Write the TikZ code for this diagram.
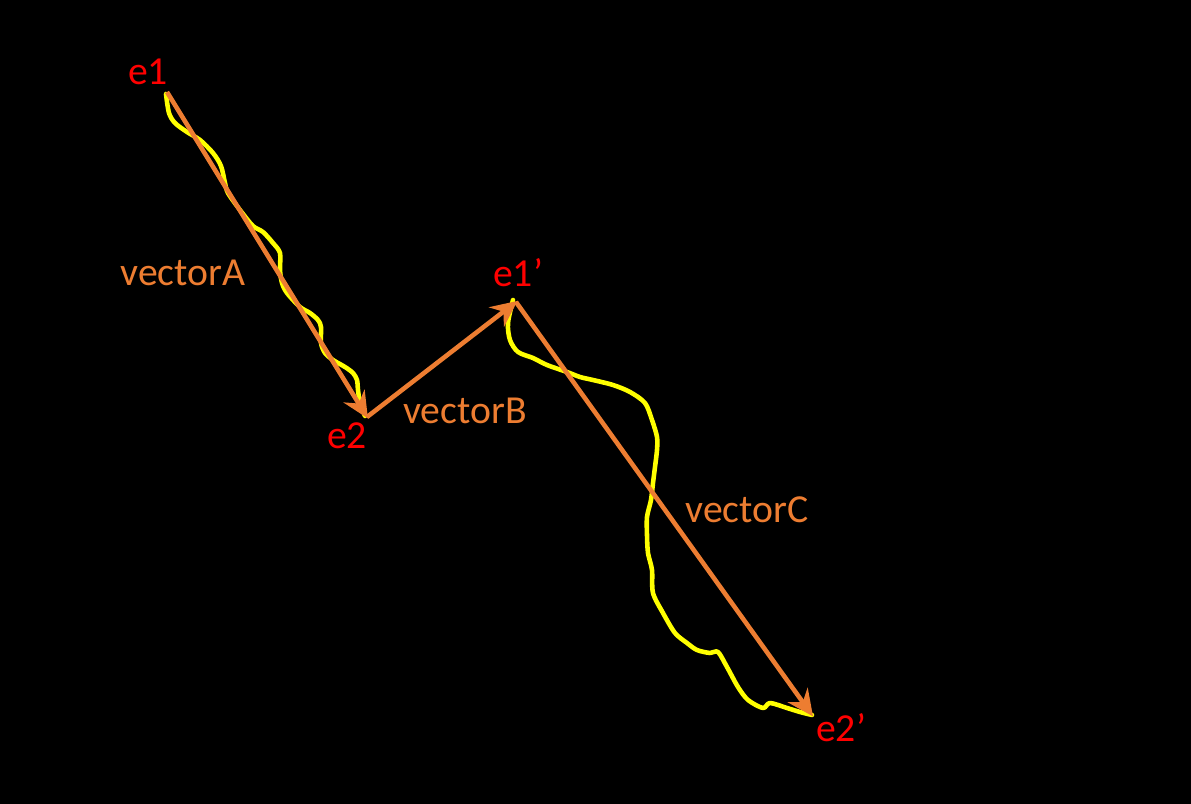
\documentclass[tikz,border=0pt]{standalone}
\usepackage{fontspec}
\setmainfont{Carlito}
\usepackage{tikz}
\usetikzlibrary{arrows.meta}

\definecolor{vecorange}{HTML}{ED7D31}
\definecolor{ptred}{HTML}{FF0000}
\definecolor{pathyellow}{HTML}{FFFF00}

\tikzset{
	ptlabel/.style = {text = ptred, inner sep = 0pt, font = \fontsize{22.6}{27}\selectfont},
	veclabel/.style = {text = vecorange, inner sep = 0pt, font = \fontsize{22.6}{27}\selectfont},
	vec/.style = {draw = vecorange, line width = 2.6pt, -{Stealth[length = 15pt, width = 14pt, inset = 5pt]}, shorten >= -1pt},
	track/.style = {draw = pathyellow, line width = 2.6pt, line join = round, line cap = round}
}

\begin{document}
\begin{tikzpicture}[x = 0.02cm, y = -0.02cm]
	\fill [black] (0,0) rectangle (1191,804);
	\useasboundingbox (0,0) rectangle (1191,804);
	% end points
	\coordinate (pe1) at (167,92);
	\coordinate (pe2) at (367,417);
	\coordinate (pe1p) at (516,302);
	\coordinate (pe2p) at (812,715);
	% yellow tracks
	\draw [track] plot [smooth, tension = .5] coordinates {(166,94) (169,113) (175,123) (187,132) (200,140) (213,153) (221,166) (225,183) (228,193) (240,210) (253,226) (263,232) (273,243) (280,253) (280,270) (282,283) (287,293) (300,307) (310,313) (318,320) (321,327) (321,343) (325,353) (333,360) (345,367) (353,373) (357,380) (358,390) (360,403) (365,416)};
	\draw [track] plot [smooth, tension = .5] coordinates {(513,300) (508,323) (510,340) (518,352) (533,358) (547,365) (567,372) (580,377) (593,380) (613,385) (630,392) (645,403) (652,420) (657,437) (657,450) (655,467) (653,483) (651,500) (647,517) (647,535) (648,553) (652,570) (653,593) (663,613) (675,633) (687,643) (697,650) (710,653) (718,652) (727,667) (738,687) (748,700) (763,708) (770,703) (787,708) (800,712) (812,715)};
	% vectors
	\draw [vec] (pe1) -- (pe2);
	\draw [vec] (pe2) -- (pe1p);
	\draw [vec] (pe1p) -- (pe2p);
	% labels
	\node [ptlabel] (e1) at (148,72) {e1};
	\node [ptlabel] (e2) at (347,436) {e2};
	\node [ptlabel] (e1p) at (518,273) {e1’};
	\node [ptlabel] (e2p) at (841,728) {e2’};
	\node [veclabel] (vA) at (183,273) {vectorA};
	\node [veclabel] (vB) at (465,411) {vectorB};
	\node [veclabel] (vC) at (747,510) {vectorC};
\end{tikzpicture}
\end{document}
